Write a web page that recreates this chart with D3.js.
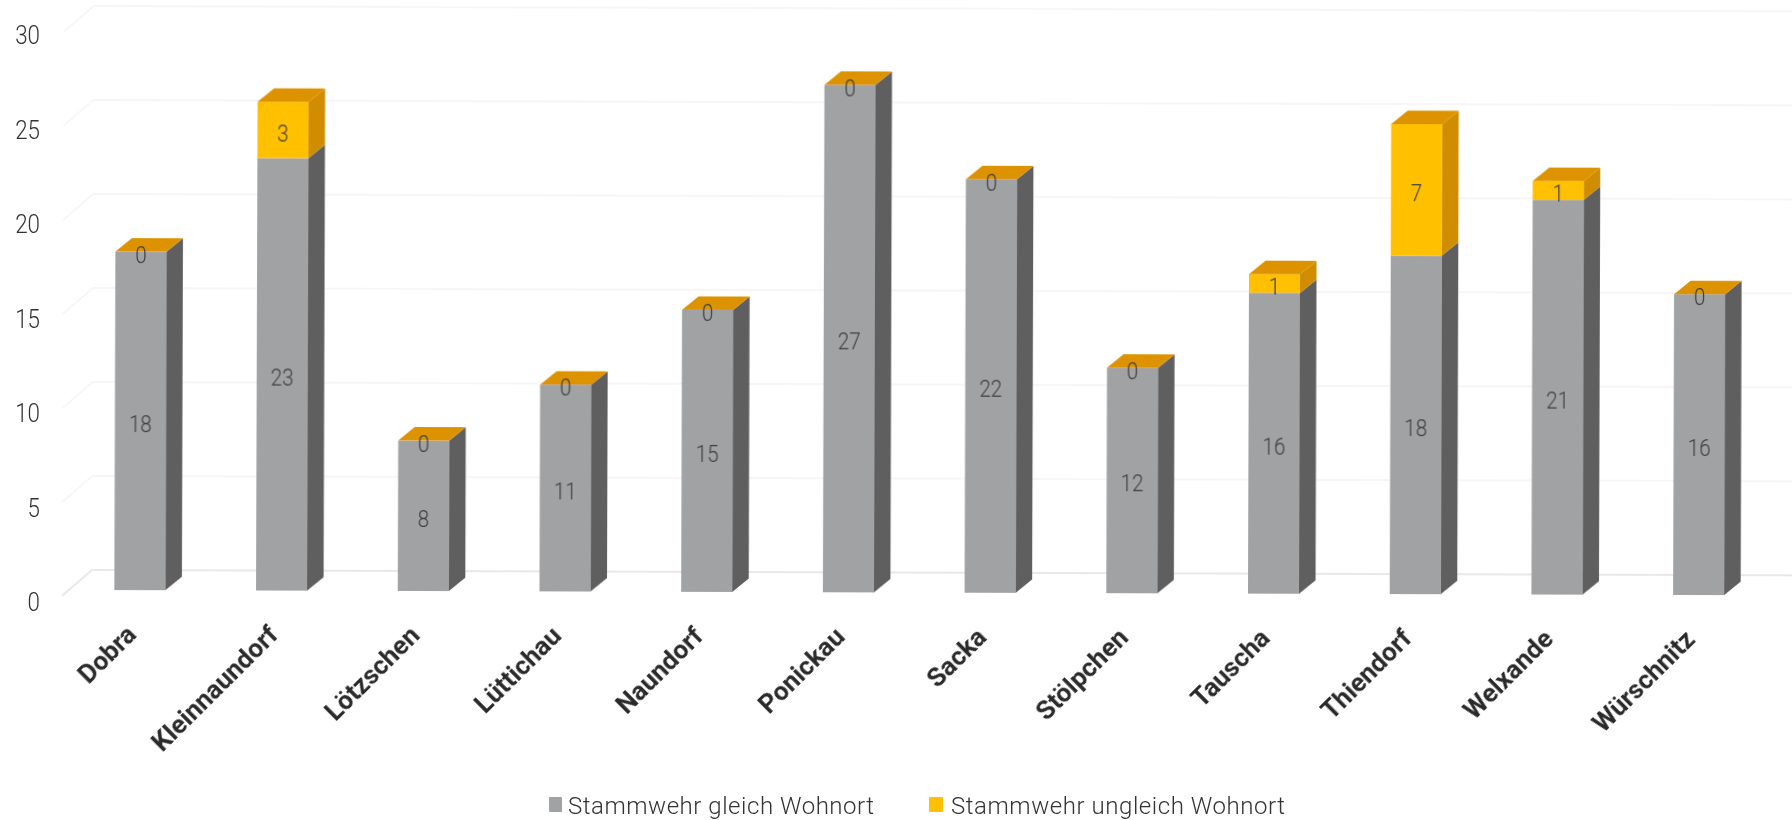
<!DOCTYPE html>
<html><head><meta charset="utf-8">
<script src="https://cdn.jsdelivr.net/npm/d3@7/dist/d3.min.js"></script>
<style>html,body{margin:0;background:#fff}svg{display:block}</style></head>
<body><svg id="c" width="1792" height="820"></svg>
<script>
const categories = ["Dobra","Kleinnaundorf","Lötzschen","Lüttichau","Naundorf","Ponickau","Sacka","Stölpchen","Tauscha","Thiendorf","Welxande","Würschnitz"];
const gleich = [18,23,8,11,15,27,22,12,16,18,21,16];
const ungleich = [0,3,0,0,0,0,0,0,1,7,1,0];
const yTicks = [0,5,10,15,20,25,30];
const legendLabels = ["Stammwehr gleich Wohnort","Stammwehr ungleich Wohnort"];

const svg = d3.select("#c");
const y = d3.scaleLinear().domain([0,30]).range([590,26]);
const yLabel = d3.scaleLinear().domain([0,30]).range([602,35]);
const x = d3.scaleBand().domain(categories).range([69,1769.5]).paddingInner(0.64).paddingOuter(0.32);
const depthX = 16.5, depthY = 13.5;
const bw = x.bandwidth();

const defs = svg.append("defs");
defs.append("filter").attr("id","soft").append("feGaussianBlur").attr("stdDeviation",0.5);

const g = svg.append("g").attr("transform","rotate(0.18 100 590)");

// back wall grid
const grid = g.append("g").attr("fill","none");
grid.selectAll("path").data(yTicks).join("path")
  .attr("d", v => `M62 ${y(v)+6}L92 ${y(v)-20}H1792`)
  .attr("stroke", v => v===0 ? "#e8e8e8" : "#f4f4f4")
  .attr("stroke-width", v => v===0 ? 2 : 1.5)
  .attr("filter","url(#soft)");

// y labels
svg.append("g").selectAll("text").data(yTicks).join("text")
  .attr("transform",v=>`translate(40,${yLabel(v)}) scale(0.86,1)`)
  .attr("dy","0.36em")
  .attr("text-anchor","end")
  .attr("font-family","Roboto").attr("font-weight",300).attr("font-size",26)
  .attr("fill","#333").attr("filter","url(#soft)")
  .text(v=>v);

const GRAY = {front:"#a1a2a4", side:"#5f5e5e", top:"#8a8a8a"};
const GOLD = {front:"#ffc000", side:"#d08d00", top:"#dd9300"};

function box(sel, px, top, bottom, c, withTop){
  sel.append("rect").attr("x",px).attr("y",top).attr("width",bw).attr("height",Math.max(0,bottom-top)).attr("fill",c.front);
  sel.append("path").attr("fill",c.side)
    .attr("d",`M${px+bw} ${top}l${depthX} ${-depthY}V${bottom-depthY}l${-depthX} ${depthY}Z`);
  if(withTop) sel.append("path").attr("fill",c.top)
    .attr("d",`M${px} ${top}l${depthX} ${-depthY}h${bw}l${-depthX} ${depthY}Z`);
}

const bars = g.append("g").attr("filter","url(#soft)");
categories.forEach((c,i)=>{
  const b = bars.append("g");
  const px = x(c);
  const a = gleich[i], u = ungleich[i];
  box(b, px, y(a), y(0), GRAY, false);
  box(b, px, y(a+u), y(a), GOLD, true);
});

const labels = g.append("g")
  .attr("font-family","Roboto").attr("font-weight",300).attr("font-size",24)
  .attr("fill","#3d3d3d").attr("text-anchor","middle").attr("filter","url(#soft)");
function valueLabel(cx, cy, v){
  labels.append("text").attr("transform",`translate(${cx},${cy+2.5}) scale(0.86,1)`).attr("dy","0.36em").text(v);
}
categories.forEach((c,i)=>{
  const cx = x(c)+bw/2, a = gleich[i], u = ungleich[i];
  valueLabel(cx,(y(0)+y(a))/2,a);
  valueLabel(cx,(y(a)+y(a+u))/2,u);
});

// category labels
g.append("g").selectAll("text").data(categories).join("text")
  .attr("transform",c=>`translate(${x(c)+bw/2-2},636) rotate(-45)`)
  .attr("text-anchor","end")
  .attr("font-family","Roboto").attr("font-weight",700).attr("font-size",26)
  .attr("fill","#2a2a2a").attr("filter","url(#soft)")
  .text(c=>c);

// legend
const legendX = [549,929], textX = [568,951], legendW = [13,14], legendColors = [GRAY.front, GOLD.front];
const textW = [306,334];
const lg = svg.append("g").attr("filter","url(#soft)");
legendLabels.forEach((t,i)=>{
  lg.append("rect").attr("x",legendX[i]).attr("y",797).attr("width",legendW[i]).attr("height",15).attr("rx",1).attr("fill",legendColors[i]);
  lg.append("text").attr("x",textX[i]).attr("y",814)
    .attr("font-family","Roboto").attr("font-weight",300).attr("font-size",24)
    .attr("fill","#333").attr("textLength",textW[i]).attr("lengthAdjust","spacing").text(t);
});
</script></body></html>
